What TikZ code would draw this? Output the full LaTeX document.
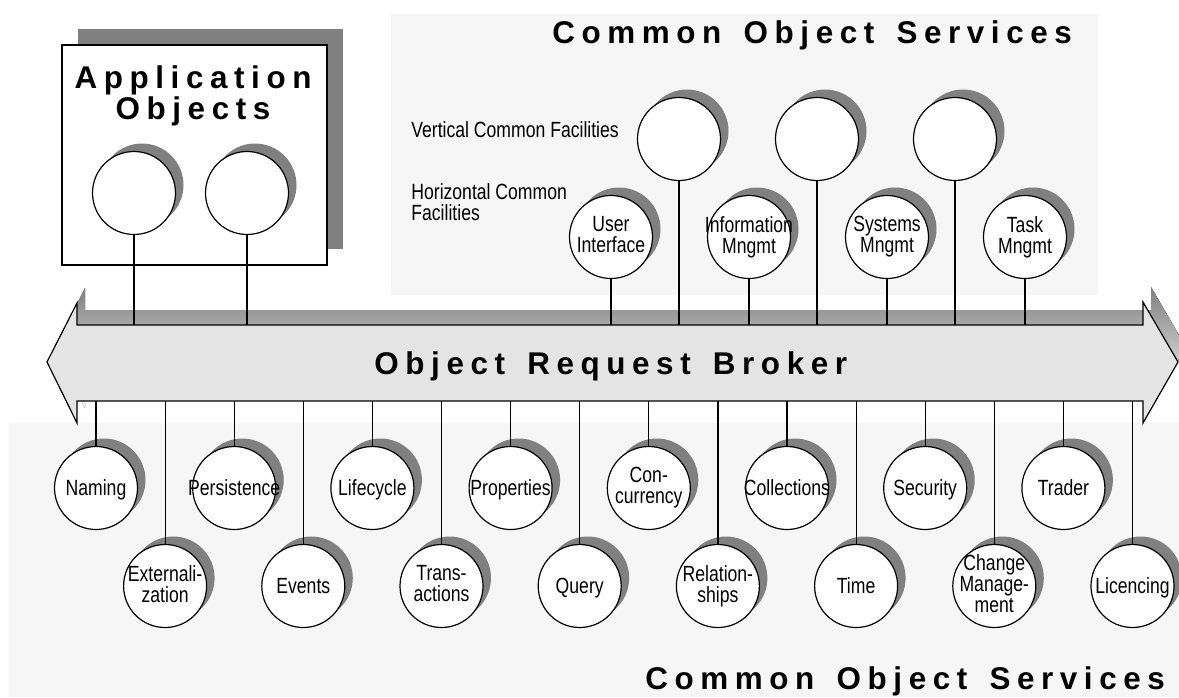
\documentclass[tikz,border=0pt]{standalone}
\usepackage{fontspec}
\setmainfont{Liberation Sans}
\newfontfamily\narrowfont{Liberation Sans}[FakeStretch=0.8]
\newfontfamily\spacedfont{Liberation Sans}[LetterSpace=21, WordSpace=1.45]
\usetikzlibrary{shadows}

\definecolor{shade}{HTML}{808080}
\definecolor{orbfill}{HTML}{E4E4E4}
\definecolor{panel}{HTML}{F6F6F6}

\tikzset{
  svc/.style={circle, draw, fill=white, line width=.6pt, minimum size=41.5pt, inner sep=0pt,
    drop shadow={shadow xshift=4pt, shadow yshift=4pt, fill=shade, opacity=1}},
  svctext/.style={align=center, inner sep=0pt, font={\narrowfont\fontsize{11}{10.5}\selectfont},
    execute at begin node={\rule{0pt}{10.3pt}}, execute at end node={\rule[-2.45pt]{0pt}{2.45pt}}},
  facil/.style={align=left, inner sep=0pt, anchor=base west, font={\narrowfont\fontsize{11}{10.5}\selectfont}},
  heading/.style={inner sep=0pt, font={\spacedfont\bfseries\fontsize{15.7}{15.5}\selectfont}},
  stem/.style={line width=.6pt},
}

\begin{document}
\begin{tikzpicture}[x=.5pt, y=-.5pt]
\useasboundingbox (0,0) rectangle (1179,697);

% background panels
\fill[panel] (391,14) rectangle (1098,295);
\fill[panel] (9,423) rectangle (1179,697);
\node[heading, anchor=base west] (costop) at (552,43) {Common Object Services};
\node[heading, anchor=base west] (cosbot) at (645,689) {Common Object Services};

% the broker arrow, shadow first
\coordinate (orbtop) at (0,325);
\coordinate (orbbot) at (0,401);
\fill[shade, shift={(8,-15)}] (47,362) -- (77,303) -- (77,325) -- (1143,325) -- (1143,302)
  -- (1178,362) -- (1143,423) -- (1143,401) -- (77,401) -- (77,423) -- cycle;
\draw[fill=orbfill, line width=.6pt] (47,362) -- (77,303) -- (77,325) -- (1143,325) -- (1143,302)
  -- (1178,362) -- (1143,423) -- (1143,401) -- (77,401) -- (77,423) -- cycle;
\node[heading, anchor=base west] (orb) at (374,374) {Object Request Broker};

% application objects
\node[draw, fill=white, line width=.6pt, minimum width=132.5pt, minimum height=110pt,
  drop shadow={shadow xshift=8pt, shadow yshift=8pt, fill=shade, opacity=1}] (appbox) at (194.5,155) {};
\node[heading, align=center, anchor=base] (apptitle) at (193,119) {Application\\Objects};
\node[svc] (app1) at (134,193) {};
\node[svc] (app2) at (247,193) {};

% common facilities
\node[facil] (vlabel) at (411,137) {Vertical Common Facilities};
\node[facil] (hlabel) at (411,220) {Horizontal Common\\Facilities};
\foreach \x [count=\i] in {679,817,955}
  \node[svc] (vcf\i) at (\x,139) {};
\foreach \x/\name/\txt in {611/ui/{User\\Interface}, 749/info/{Information\\Mngmt},
    887/sysm/{Systems\\Mngmt}, 1025/taskm/{Task\\Mngmt}} {
  \node[svc] (\name) at (\x,237) {};
  \node[svctext] (\name-t) at (\name) {\txt};
}

% object services under the broker, upper row r=0, lower row r=1
\foreach \i/\r/\name/\txt [evaluate=\i as \xx using 96+69.1*\i, evaluate=\r as \yy using 488+98*\r] in
  {0/0/naming/Naming, 1/1/extern/{Externali-\\zation}, 2/0/persist/Persistence, 3/1/events/Events,
   4/0/lifecycle/Lifecycle, 5/1/trans/{Trans-\\actions}, 6/0/props/Properties, 7/1/query/Query,
   8/0/concur/{Con-\\currency}, 9/1/relation/{Relation-\\ships}, 10/0/collect/Collections, 11/1/time/Time,
   12/0/security/Security, 13/1/change/{Change\\Manage-\\ment}, 14/0/trader/Trader, 15/1/licence/Licencing} {
  \node[svc] (\name) at (\xx,\yy) {};
  \node[svctext] (\name-t) at (\name) {\txt};
}

% stems to the broker
\foreach \name in {app1,app2,vcf1,vcf2,vcf3,ui,info,sysm,taskm}
  \draw[stem] (\name.south) -- (\name.south |- orbtop);
\foreach \name in {naming,extern,persist,events,lifecycle,trans,props,query,
    concur,relation,collect,time,security,change,trader,licence}
  \draw[stem] (\name.north) -- (\name.north |- orbbot);

\end{tikzpicture}
\end{document}
